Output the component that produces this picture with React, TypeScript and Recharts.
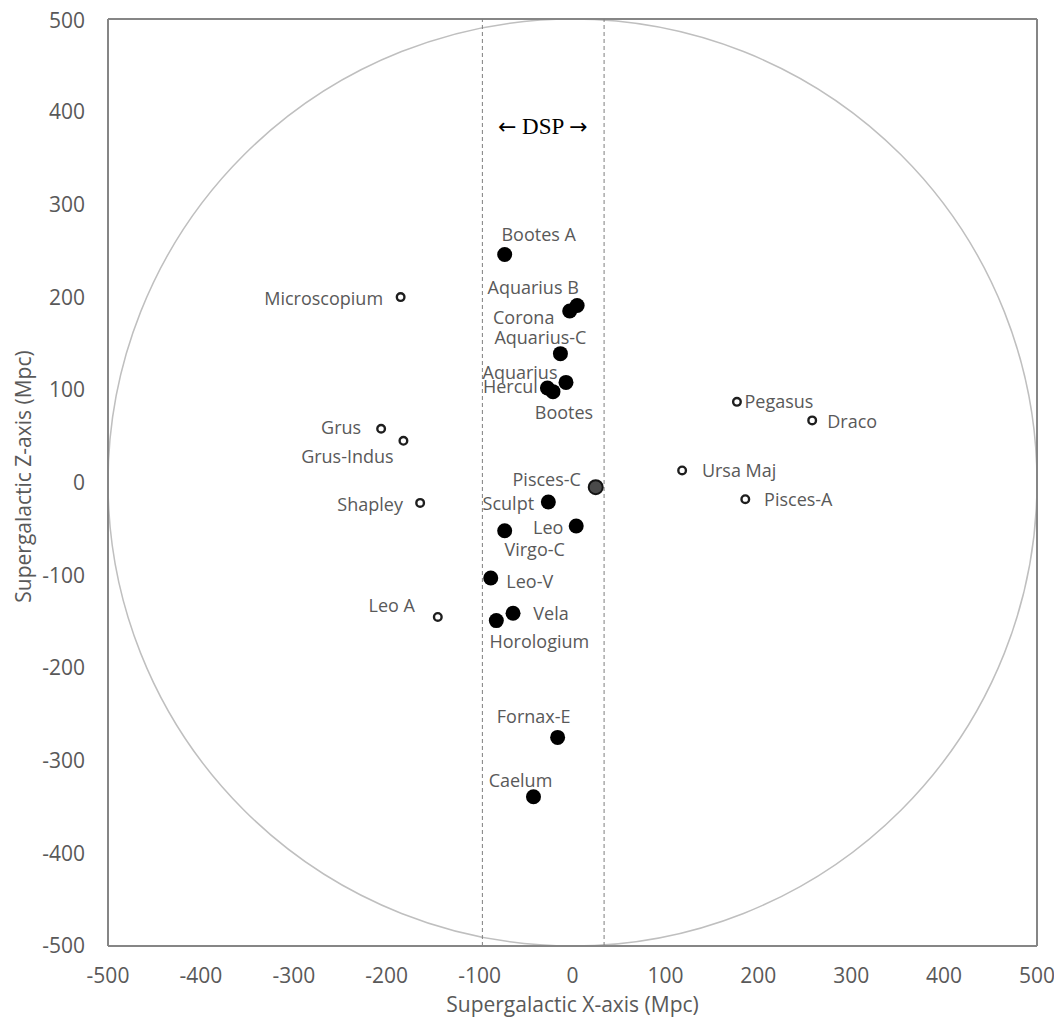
import React from "react";
import {
  ScatterChart,
  Scatter,
  XAxis,
  YAxis,
  ReferenceLine,
  ReferenceArea,
  ReferenceDot,
} from "recharts";

// superclusters inside / near the DSP band (filled markers)
const filledNames = [
  "Bootes A", "Aquarius B", "Corona", "Aquarius-C", "Aquarius", "Hercul", "Bootes",
  "Sculpt", "Leo", "Virgo-C", "Leo-V", "Vela", "Horologium", "Fornax-E", "Caelum",
];
const filledX = [-73, 5, -3, -13, -7, -27, -21, -26, 4, -73, -88, -64, -82, -16, -42];
const filledZ = [246, 191, 185, 139, 108, 102, 98, -21, -47, -52, -103, -141, -149, -275, -339];

// Pisces-C, drawn in a softer grey
const piscesNames = ["Pisces-C"];
const piscesX = [25];
const piscesZ = [-5];

// superclusters outside the band (open markers)
const openNames = [
  "Microscopium", "Grus", "Grus-Indus", "Shapley", "Leo A", "Pegasus", "Draco", "Ursa Maj", "Pisces-A",
];
const openX = [-185, -206, -182, -164, -145, 177, 258, 118, 186];
const openZ = [200, 58, 45, -22, -145, 87, 67, 13, -18];

const axisTicks = [-500, -400, -300, -200, -100, 0, 100, 200, 300, 400, 500];
const dspEdges = [-97, 34];
const dspLabel = { text: "DSP", x: -32, z: 385 };

// label placement (pixel offsets of label centre from marker)
const labelOffsets: Record<string, [number, number]> = {
  "Bootes A": [34, -20],
  "Aquarius B": [-44, -18],
  Corona: [-46, 6],
  "Aquarius-C": [-20, -17],
  Aquarius: [-46, -10],
  Hercul: [-37, -2],
  Bootes: [11, 20],
  "Pisces-C": [-49, -8],
  Sculpt: [-40, 1],
  Leo: [-28, 1],
  "Virgo-C": [30, 18],
  "Leo-V": [39, 3],
  Vela: [38, 0],
  Horologium: [43, 20],
  "Fornax-E": [-24, -21],
  Caelum: [-13, -17],
  Microscopium: [-77, 1],
  Grus: [-40, -2],
  "Grus-Indus": [-56, 15],
  Shapley: [-50, 1],
  "Leo A": [-46, -12],
  Pegasus: [42, -1],
  Draco: [40, 1],
  "Ursa Maj": [57, 0],
  "Pisces-A": [53, 0],
};

const toRows = (names: string[], xs: number[], zs: number[]) =>
  names.map((name, i) => ({ name, x: xs[i], z: zs[i] }));

const filledData = toRows(filledNames, filledX, filledZ);
const piscesData = toRows(piscesNames, piscesX, piscesZ);
const openData = toRows(openNames, openX, openZ);

const FONT = "'Open Sans', 'Noto Sans', sans-serif";
const TEXT = "#595959";

const PointLabel = ({ cx, cy, name }: { cx: number; cy: number; name: string }) => {
  const off = labelOffsets[name] || [0, -16];
  return (
    <text
      x={cx + off[0]}
      y={cy + off[1]}
      textAnchor="middle"
      dominantBaseline="central"
      fill={TEXT}
      fontSize={18}
      fontFamily={FONT}
    >
      {name}
    </text>
  );
};

const makeShape = (kind: "filled" | "open" | "grey") => (props: any) => {
  const { cx, cy, payload } = props;
  if (cx == null || cy == null) return null;
  let marker;
  if (kind === "filled") marker = <circle cx={cx} cy={cy} r={7.5} fill="#000" />;
  else if (kind === "grey")
    marker = <circle cx={cx} cy={cy} r={7} fill="#4a4a4a" stroke="#141414" strokeWidth={2} />;
  else marker = <circle cx={cx} cy={cy} r={3.8} fill="#fff" stroke="#1e1e1e" strokeWidth={2.4} />;
  return (
    <g>
      {marker}
      <PointLabel cx={cx} cy={cy} name={payload.name} />
    </g>
  );
};

const XTitle = (props: any) => {
  const vb = props.viewBox || { x: 100, y: 938, width: 929, height: 70 };
  return (
    <text
      x={vb.x + vb.width / 2}
      y={vb.y + vb.height - 4}
      textAnchor="middle"
      fill={TEXT}
      fontSize={21}
      fontFamily={FONT}
    >
      Supergalactic X-axis (Mpc)
    </text>
  );
};

const YTitle = (props: any) => {
  const vb = props.viewBox || { x: 0, y: 11, width: 100, height: 927 };
  const x = vb.x + 15;
  const y = vb.y + vb.height / 2 - 6;
  return (
    <text
      x={x}
      y={y}
      transform={`rotate(-90, ${x}, ${y})`}
      textAnchor="middle"
      dominantBaseline="central"
      fill={TEXT}
      fontSize={21}
      fontFamily={FONT}
    >
      Supergalactic Z-axis (Mpc)
    </text>
  );
};

const DspText = (p: any) => (
  <text
    x={p.cx}
    y={p.cy}
    textAnchor="middle"
    dominantBaseline="central"
    fill="#000"
    fontSize={23}
    fontFamily="'Liberation Serif', 'DejaVu Serif', serif"
  >
    <tspan fontFamily="'DejaVu Sans', sans-serif" fontSize={22}>{"\u2190"}</tspan>
    <tspan>{" " + dspLabel.text + " "}</tspan>
    <tspan fontFamily="'DejaVu Sans', sans-serif" fontSize={22}>{"\u2192"}</tspan>
  </text>
);

const App: React.FC = () => {
  const tickStyle = { fill: TEXT, fontSize: 21, fontFamily: FONT };
  return (
    <div style={{ width: 1050, height: 1010 }}>
      <ScatterChart
        width={1050}
        height={1010}
        margin={{ top: 11, right: 21, bottom: 2, left: 0 }}
        style={{ overflow: "visible" }}
      >
        <XAxis
          type="number"
          dataKey="x"
          domain={[-500, 500]}
          ticks={axisTicks}
          allowDataOverflow
          height={70}
          tickLine={false}
          tickMargin={16}
          tick={tickStyle}
          axisLine={{ stroke: "#868686", strokeWidth: 2 }}
          label={{ content: XTitle }}
        />
        <YAxis
          type="number"
          dataKey="z"
          domain={[-500, 500]}
          ticks={axisTicks}
          allowDataOverflow
          width={100}
          tickLine={false}
          tickMargin={17}
          tick={tickStyle}
          axisLine={{ stroke: "#868686", strokeWidth: 2 }}
          label={{ content: YTitle }}
        />
        <ReferenceArea
          x1={-500}
          x2={500}
          y1={-500}
          y2={500}
          shape={(p: any) => (
            <ellipse
              cx={p.x + p.width / 2}
              cy={p.y + p.height / 2}
              rx={p.width / 2}
              ry={p.height / 2}
              fill="none"
              stroke="#bfbfbf"
              strokeWidth={1.5}
            />
          )}
        />
        <ReferenceLine x={500} stroke="#868686" strokeWidth={2} />
        <ReferenceLine y={500} stroke="#868686" strokeWidth={2} />
        {dspEdges.map((v) => (
          <ReferenceLine key={v} x={v} stroke="#7f7f7f" strokeWidth={1} strokeDasharray="4 3" />
        ))}
        <ReferenceDot x={dspLabel.x} y={dspLabel.z} r={0} shape={DspText} />
        <Scatter data={openData} shape={makeShape("open")} isAnimationActive={false} />
        <Scatter data={piscesData} shape={makeShape("grey")} isAnimationActive={false} />
        <Scatter data={filledData} shape={makeShape("filled")} isAnimationActive={false} />
      </ScatterChart>
    </div>
  );
};

export default App;
